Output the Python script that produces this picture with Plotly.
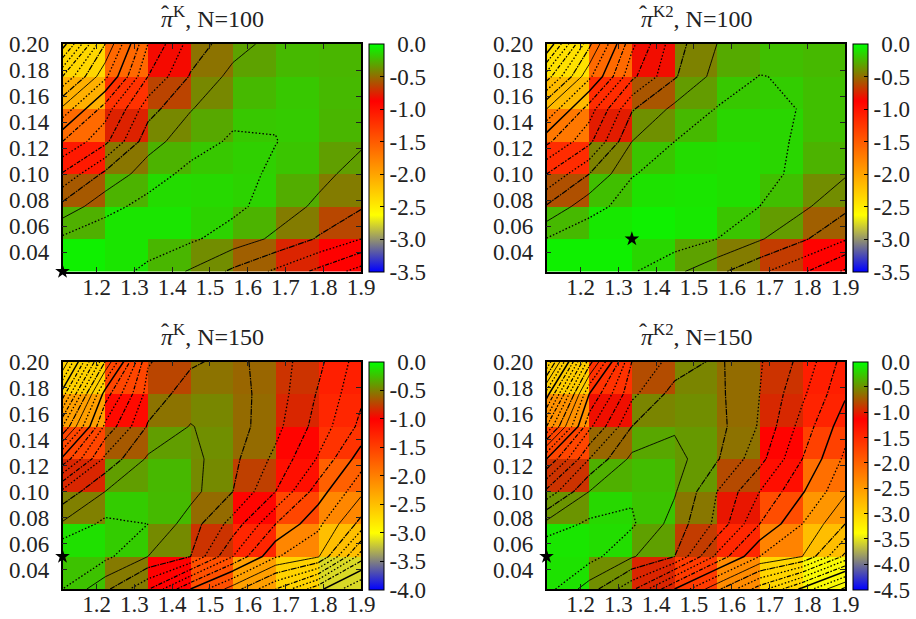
import plotly.graph_objects as go

X_NODES = [1.11, 1.223, 1.336, 1.449, 1.561, 1.674, 1.787, 1.9]
Y_NODES = [0.2, 0.175, 0.15, 0.125, 0.1, 0.075, 0.05, 0.025]
X_TICKS = [1.2, 1.3, 1.4, 1.5, 1.6, 1.7, 1.8, 1.9]
Y_TICKS = [0.04, 0.06, 0.08, 0.10, 0.12, 0.14, 0.16, 0.18, 0.20]

A_cells = [
    [-2.35, -1.59, -0.84, -0.48, -0.32, -0.24, -0.25],
    [-2.08, -1.22, -0.64, -0.41, -0.24, -0.19, -0.24],
    [-1.60, -0.76, -0.41, -0.30, -0.19, -0.18, -0.25],
    [-1.05, -0.47, -0.26, -0.19, -0.16, -0.20, -0.33],
    [-0.57, -0.26, -0.12, -0.13, -0.15, -0.28, -0.45],
    [-0.27, -0.09, -0.09, -0.15, -0.26, -0.45, -0.63],
    [-0.05, -0.09, -0.25, -0.39, -0.55, -0.75, -0.87],
]
A_grid = [
    [-3.3, -2.2, -1.2, -0.72, -0.48, -0.33, -0.28, -0.27],
    [-2.6, -1.85, -1.0, -0.58, -0.34, -0.26, -0.26, -0.27],
    [-1.95, -1.3, -0.68, -0.41, -0.26, -0.22, -0.26, -0.3],
    [-1.4, -1.05, -0.48, -0.29, -0.17, -0.195, -0.28, -0.37],
    [-0.98, -0.55, -0.3, -0.14, -0.12, -0.24, -0.34, -0.48],
    [-0.535, -0.27, -0.13, -0.1, -0.15, -0.29, -0.44, -0.58],
    [-0.16, -0.06, -0.07, -0.17, -0.29, -0.44, -0.62, -0.8],
    [0.0, -0.08, -0.26, -0.42, -0.64, -0.835, -1.05, -1.28],
]
B_cells = [
    [-2.42, -1.60, -0.83, -0.43, -0.29, -0.22, -0.24],
    [-2.15, -1.18, -0.58, -0.34, -0.19, -0.17, -0.22],
    [-1.70, -0.78, -0.38, -0.24, -0.14, -0.14, -0.22],
    [-1.18, -0.43, -0.20, -0.12, -0.11, -0.14, -0.26],
    [-0.60, -0.22, -0.10, -0.09, -0.11, -0.22, -0.39],
    [-0.24, -0.08, -0.05, -0.08, -0.20, -0.34, -0.55],
    [-0.05, -0.05, -0.14, -0.32, -0.45, -0.67, -0.89],
]
B_grid = [
    [-3.4, -2.25, -1.25, -0.68, -0.4, -0.29, -0.27, -0.27],
    [-2.7, -1.85, -1.05, -0.62, -0.33, -0.195, -0.22, -0.26],
    [-2.0, -1.3, -0.62, -0.35, -0.19, -0.14, -0.21, -0.27],
    [-1.45, -1.05, -0.4, -0.2, -0.13, -0.11, -0.24, -0.33],
    [-1.0, -0.6, -0.21, -0.13, -0.09, -0.11, -0.27, -0.38],
    [-0.58, -0.27, -0.12, -0.09, -0.1, -0.2, -0.36, -0.55],
    [-0.19, -0.07, 0.0, -0.1, -0.2, -0.38, -0.57, -0.78],
    [-0.08, -0.05, -0.18, -0.35, -0.55, -0.76, -0.97, -1.23],
]
C_cells = [
    [-2.65, -1.55, -0.73, -0.55, -0.60, -0.80, -1.24],
    [-2.25, -1.08, -0.55, -0.47, -0.58, -0.85, -1.30],
    [-1.55, -0.65, -0.38, -0.44, -0.58, -1.03, -1.40],
    [-0.85, -0.38, -0.28, -0.46, -0.75, -1.12, -1.75],
    [-0.50, -0.20, -0.27, -0.58, -1.03, -1.55, -2.06],
    [-0.12, -0.20, -0.46, -0.80, -1.30, -2.05, -2.50],
    [-0.24, -0.52, -1.00, -1.63, -2.25, -2.65, -3.15],
]
C_grid = [
    [-3.8, -2.2, -0.82, -0.63, -0.54, -0.7, -0.95, -1.3],
    [-3.1, -1.5, -0.72, -0.5, -0.52, -0.7, -1.02, -1.36],
    [-2.4, -1.15, -0.58, -0.39, -0.5, -0.74, -1.08, -1.45],
    [-1.55, -0.75, -0.37, -0.33, -0.55, -0.85, -1.22, -1.7],
    [-0.75, -0.4, -0.29, -0.33, -0.6, -1.0, -1.5, -1.95],
    [-0.37, -0.15, -0.2, -0.5, -0.88, -1.4, -1.75, -2.27],
    [0.0, -0.15, -0.4, -0.6, -1.2, -1.78, -1.98, -2.9],
    [-0.2, -0.55, -0.98, -1.6, -2.1, -2.6, -3.14, -3.6],
]
D_cells = [
    [-2.93, -1.57, -0.79, -0.54, -0.65, -0.90, -1.39],
    [-2.40, -1.06, -0.54, -0.50, -0.65, -0.95, -1.43],
    [-1.74, -0.67, -0.39, -0.45, -0.62, -1.15, -1.70],
    [-0.90, -0.35, -0.29, -0.45, -0.80, -1.25, -2.10],
    [-0.47, -0.17, -0.26, -0.60, -1.03, -1.80, -2.45],
    [-0.11, -0.15, -0.42, -0.86, -1.47, -2.28, -2.80],
    [-0.13, -0.50, -0.96, -1.65, -2.35, -3.00, -3.40],
]
D_grid = [
    [-4.2, -2.3, -1.0, -0.72, -0.56, -0.78, -1.06, -1.48],
    [-3.3, -1.6, -0.85, -0.52, -0.55, -0.8, -1.16, -1.57],
    [-2.6, -1.25, -0.6, -0.43, -0.53, -0.82, -1.28, -1.72],
    [-1.6, -0.8, -0.35, -0.32, -0.58, -0.93, -1.4, -1.84],
    [-0.95, -0.4, -0.23, -0.38, -0.8, -1.2, -1.58, -1.97],
    [-0.33, -0.16, -0.17, -0.48, -0.85, -1.4, -1.8, -2.2],
    [0.0, -0.12, -0.38, -0.6, -1.25, -1.8, -2.0, -2.65],
    [-0.12, -0.5, -0.95, -1.6, -2.15, -2.7, -3.25, -3.85],
]
A_star = (1.11, 0.025)
B_star = (1.336, 0.05)
C_star = (1.11, 0.05)
D_star = (1.11, 0.05)
A_cb = [0.0, -0.5, -1.0, -1.5, -2.0, -2.5, -3.0, -3.5]
B_cb = [0.0, -0.5, -1.0, -1.5, -2.0, -2.5, -3.0, -3.5]
C_cb = [0.0, -0.5, -1.0, -1.5, -2.0, -2.5, -3.0, -3.5, -4.0]
D_cb = [0.0, -0.5, -1.0, -1.5, -2.0, -2.5, -3.0, -3.5, -4.0, -4.5]

W, H = 916, 619
FONT = "Liberation Serif"
TXT = "#222222"
COLORSCALE = [
    [0.0, "rgb(0,0,255)"],
    [0.125, "rgb(128,128,128)"],
    [0.25, "rgb(255,255,0)"],
    [0.75, "rgb(255,0,0)"],
    [1.0, "rgb(0,255,0)"],
]
# contour line style per level group (a cycle of eight levels)
STYLES = [
    (-0.2, "1.5px,2px", 1.3),
    (-0.4, "solid", 0.9),
    (-0.6, "6px,1px,1.5px,1px", 1.2),
    (-0.8, "1.5px,2px", 1.3),
    (-1.0, "4px,1.5px,1.5px,1.5px", 1.2),
    (-1.2, "1.5px,2px", 1.3),
    (-1.4, "4px,1.5px,1.5px,1.5px", 1.2),
    (-1.6, "solid", 1.5),
]

panels = [
    ("K", "100", A_cells, A_grid, A_star, A_cb, 62.5, 44, 368.5, 102.5),
    ("K2", "100", B_cells, B_grid, B_star, B_cb, 546.5, 44, 852.5, 96.5),
    ("K", "150", C_cells, C_grid, C_star, C_cb, 62.5, 361.5, 368.5, 102.5),
    ("K2", "150", D_cells, D_grid, D_star, D_cb, 546.5, 361.5, 852.5, 96.5),
]
PW, PH = 298.5, 227.5

fig = go.Figure()
layout = dict(
    width=W, height=H, autosize=False,
    margin=dict(l=0, r=0, t=0, b=0, autoexpand=False),
    paper_bgcolor="white", plot_bgcolor="white", showlegend=False,
    font=dict(family=FONT, size=23, color=TXT), annotations=[],
)
for i, (sup, n, cells, grid, star, cb, px, py, cx, hatdx) in enumerate(panels):
    s = "" if i == 0 else str(i + 1)
    xa, ya = "x" + s, "y" + s
    zmin = cb[-1]
    ticktext = ["\u2004" + "0.0"] + ["%.1f" % v for v in cb[1:]]
    fig.add_trace(go.Heatmap(
        x=X_NODES, y=Y_NODES[::-1], z=cells[::-1], xaxis=xa, yaxis=ya,
        zmin=zmin, zmax=0, colorscale=COLORSCALE, hoverinfo="skip",
        colorbar=dict(
            x=cx / W, xanchor="left", xpad=0, ypad=0, thickness=15,
            y=1 - py / H, yanchor="top", lenmode="pixels", len=PH,
            tickmode="array", tickvals=cb, ticktext=ticktext,
            ticks="inside", ticklen=4, tickcolor="black", tickwidth=1,
            outlinecolor="black", outlinewidth=1, borderwidth=0,
            tickfont=dict(family=FONT, size=23, color=TXT),
        ),
    ))
    for lvl, dash, width in STYLES:
        fig.add_trace(go.Contour(
            x=X_NODES, y=Y_NODES[::-1], z=grid[::-1], xaxis=xa, yaxis=ya,
            autocontour=False, showscale=False, hoverinfo="skip",
            contours=dict(start=lvl - 3.2, end=lvl, size=1.6, coloring="none"),
            line=dict(color="black", width=width, dash=dash, smoothing=0),
        ))
    fig.add_trace(go.Scatter(
        x=[star[0]], y=[star[1]], xaxis=xa, yaxis=ya, mode="markers",
        cliponaxis=False, hoverinfo="skip",
        marker=dict(symbol="star", size=11, color="black"),
    ))
    common = dict(
        showgrid=False, zeroline=False, showline=True, linecolor="black",
        linewidth=1.5, mirror="ticks", ticks="inside", ticklen=5, tickwidth=1,
        tickcolor="#222222", tickfont=dict(family=FONT, size=23, color=TXT),
    )
    layout["xaxis" + s] = dict(
        common, anchor=ya, domain=[px / W, (px + PW) / W], range=[1.11, 1.9],
        tickmode="array", tickvals=X_TICKS, ticktext=["%.1f" % v for v in X_TICKS],
        ticklabelstandoff=-6,
    )
    layout["yaxis" + s] = dict(
        common, anchor=xa, domain=[1 - (py + PH) / H, 1 - py / H], range=[0.025, 0.2],
        tickmode="array", tickvals=Y_TICKS, ticktext=["%.2f" % v for v in Y_TICKS],
        ticklabelstandoff=7,
    )
    layout["annotations"].append(dict(
        xref="paper", yref="paper", x=(px + 149.5) / W, y=1 - (py - 27) / H,
        xanchor="center", yanchor="middle", showarrow=False,
        text="<i>\u03c0</i><sup>" + sup + "</sup>, N=" + n,
        font=dict(family=FONT, size=24, color=TXT),
    ))
    layout["annotations"].append(dict(
        xref="paper", yref="paper", x=(px + hatdx) / W, y=1 - (py - 30) / H,
        xanchor="center", yanchor="middle", showarrow=False,
        text="\u02c6", font=dict(family=FONT, size=24, color=TXT),
    ))
fig.update_layout(**layout)
fig.write_html(
    "out.html",
    config={"displayModeBar": False},
    post_script="document.body.style.margin='0';document.body.style.overflow='hidden';",
)
